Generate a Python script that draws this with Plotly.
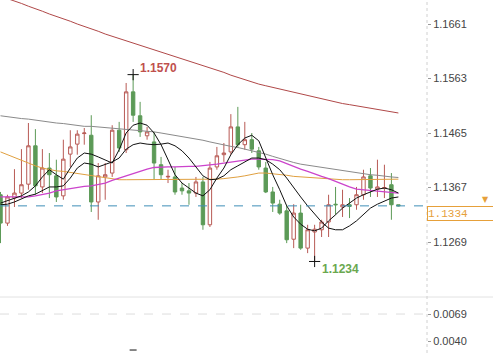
import plotly.graph_objects as go

# ---------------- data ----------------
idx = list(range(58))
opens = [1.1354, 1.1303, 1.1348, 1.1357, 1.1373, 1.1442, 1.1368, 1.1402, 1.1388, 1.1352,
         1.1427, 1.1445, 1.1464, 1.1461, 1.1341, 1.1386, 1.1393, 1.1470, 1.1435, 1.1539,
         1.1496, 1.1460, 1.1449, 1.1408, 1.1386, 1.1386, 1.1366, 1.1361, 1.1357, 1.1377,
         1.1300, 1.1404, 1.1426, 1.1431, 1.1476, 1.1444, 1.1453, 1.1433, 1.1402, 1.1359,
         1.1337, 1.1325, 1.1274, 1.1321, 1.1258, 1.1287, 1.1291, 1.1305, 1.1337, 1.1332,
         1.1336, 1.1336, 1.1354, 1.1388, 1.1364, 1.1366, 1.1372, 1.1336]
highs = [1.1359, 1.1354, 1.1400, 1.1436, 1.1483, 1.1472, 1.1436, 1.1429, 1.1417, 1.1453,
         1.1470, 1.1470, 1.1474, 1.1497, 1.1411, 1.1411, 1.1479, 1.1485, 1.1555, 1.1570,
         1.1521, 1.1476, 1.1467, 1.1422, 1.1399, 1.1404, 1.1375, 1.1375, 1.1386, 1.1386,
         1.1413, 1.1440, 1.1447, 1.1499, 1.1512, 1.1485, 1.1465, 1.1440, 1.1413, 1.1368,
         1.1345, 1.1336, 1.1337, 1.1336, 1.1300, 1.1300, 1.1309, 1.1354, 1.1368, 1.1363,
         1.1348, 1.1368, 1.1399, 1.1402, 1.1417, 1.1408, 1.1393, 1.1336]
lows = [1.1267, 1.1298, 1.1332, 1.1348, 1.1363, 1.1354, 1.1357, 1.1348, 1.1341, 1.1345,
        1.1404, 1.1426, 1.1444, 1.1323, 1.1309, 1.1345, 1.1386, 1.1431, 1.1429, 1.1485,
        1.1458, 1.1453, 1.1381, 1.1381, 1.1375, 1.1354, 1.1354, 1.1336, 1.1350, 1.1291,
        1.1296, 1.1399, 1.1413, 1.1426, 1.1438, 1.1435, 1.1429, 1.1399, 1.1357, 1.1323,
        1.1318, 1.1267, 1.1258, 1.1255, 1.1249, 1.1234, 1.1278, 1.1278, 1.1318, 1.1314,
        1.1312, 1.1327, 1.1345, 1.1350, 1.1350, 1.1348, 1.1309, 1.1333]
closes = [1.1303, 1.1350, 1.1357, 1.1372, 1.1442, 1.1370, 1.1402, 1.1390, 1.1350, 1.1418,
          1.1440, 1.1463, 1.1465, 1.1341, 1.1388, 1.1390, 1.1470, 1.1438, 1.1539, 1.1497,
          1.1467, 1.1467, 1.1411, 1.1390, 1.1387, 1.1359, 1.1361, 1.1357, 1.1377, 1.1300,
          1.1402, 1.1424, 1.1429, 1.1476, 1.1444, 1.1453, 1.1436, 1.1404, 1.1359, 1.1339,
          1.1321, 1.1273, 1.1321, 1.1258, 1.1291, 1.1292, 1.1305, 1.1336, 1.1336, 1.1336,
          1.1333, 1.1354, 1.1386, 1.1366, 1.1368, 1.1367, 1.1336, 1.1334]

ma_fast = [1.1339, 1.1343, 1.1348, 1.1352, 1.1359, 1.1370, 1.1386, 1.1399, 1.1390, 1.1382,
           1.1402, 1.1420, 1.1429, 1.1427, 1.1422, 1.1417, 1.1411, 1.1435, 1.1465, 1.1479,
           1.1483, 1.1479, 1.1465, 1.1444, 1.1417, 1.1390, 1.1375, 1.1366, 1.1357, 1.1352,
           1.1363, 1.1384, 1.1402, 1.1426, 1.1444, 1.1456, 1.1461, 1.1451, 1.1420, 1.1390,
           1.1363, 1.1334, 1.1314, 1.1301, 1.1292, 1.1289, 1.1294, 1.1307, 1.1318, 1.1330,
           1.1339, 1.1348, 1.1354, 1.1359, 1.1364, 1.1366, 1.1363, 1.1357]
ma_slow = [1.1336, 1.1337, 1.1341, 1.1346, 1.1352, 1.1355, 1.1361, 1.1368, 1.1368, 1.1370,
           1.1384, 1.1402, 1.1411, 1.1409, 1.1404, 1.1408, 1.1413, 1.1420, 1.1436, 1.1444,
           1.1447, 1.1445, 1.1444, 1.1445, 1.1447, 1.1442, 1.1433, 1.1420, 1.1404, 1.1388,
           1.1381, 1.1382, 1.1388, 1.1399, 1.1406, 1.1413, 1.1420, 1.1420, 1.1417, 1.1409,
           1.1399, 1.1384, 1.1366, 1.1350, 1.1334, 1.1319, 1.1305, 1.1294, 1.1291, 1.1291,
           1.1298, 1.1307, 1.1319, 1.1330, 1.1337, 1.1343, 1.1348, 1.1350]
ma_magenta = [1.1350, 1.1350, 1.1350, 1.1350, 1.1350, 1.1352, 1.1354, 1.1357, 1.1361, 1.1363,
              1.1366, 1.1368, 1.1369, 1.1370, 1.1372, 1.1375, 1.1380, 1.1384, 1.1389, 1.1393,
              1.1397, 1.1400, 1.1403, 1.1404, 1.1404, 1.1404, 1.1405, 1.1405, 1.1405, 1.1406,
              1.1408, 1.1409, 1.1411, 1.1413, 1.1415, 1.1417, 1.1418, 1.1418, 1.1418, 1.1417,
              1.1415, 1.1410, 1.1404, 1.1400, 1.1396, 1.1391, 1.1387, 1.1383, 1.1378, 1.1372,
              1.1368, 1.1364, 1.1363, 1.1362, 1.1361, 1.1359, 1.1358, 1.1357]
ma_orange = [1.1431, 1.1426, 1.1420, 1.1415, 1.1410, 1.1406, 1.1402, 1.1399, 1.1397, 1.1396,
             1.1394, 1.1392, 1.1390, 1.1388, 1.1387, 1.1384, 1.1382, 1.1381, 1.1381, 1.1381,
             1.1381, 1.1381, 1.1381, 1.1381, 1.1381, 1.1381, 1.1381, 1.1381, 1.1381, 1.1381,
             1.1381, 1.1382, 1.1383, 1.1384, 1.1386, 1.1388, 1.1390, 1.1393, 1.1393, 1.1392,
             1.1391, 1.1389, 1.1387, 1.1386, 1.1385, 1.1384, 1.1383, 1.1382, 1.1382, 1.1381,
             1.1381, 1.1381, 1.1381, 1.1381, 1.1381, 1.1382, 1.1382, 1.1382]
ma_gray = [1.1496, 1.1494, 1.1493, 1.1491, 1.1490, 1.1488, 1.1487, 1.1485, 1.1483, 1.1482,
           1.1480, 1.1478, 1.1477, 1.1477, 1.1476, 1.1475, 1.1474, 1.1473, 1.1472, 1.1471,
           1.1470, 1.1469, 1.1467, 1.1465, 1.1463, 1.1461, 1.1458, 1.1456, 1.1454, 1.1452,
           1.1449, 1.1446, 1.1444, 1.1441, 1.1439, 1.1436, 1.1434, 1.1430, 1.1427, 1.1423,
           1.1419, 1.1416, 1.1412, 1.1409, 1.1407, 1.1405, 1.1403, 1.1401, 1.1399, 1.1397,
           1.1395, 1.1394, 1.1392, 1.1390, 1.1389, 1.1387, 1.1386, 1.1385]
ma_red = [1.1711, 1.1707, 1.1702, 1.1698, 1.1693, 1.1689, 1.1684, 1.1679, 1.1675, 1.1670,
          1.1666, 1.1661, 1.1657, 1.1652, 1.1648, 1.1643, 1.1639, 1.1635, 1.1631, 1.1626,
          1.1622, 1.1618, 1.1614, 1.1610, 1.1606, 1.1603, 1.1599, 1.1595, 1.1591, 1.1587,
          1.1583, 1.1578, 1.1574, 1.1569, 1.1565, 1.1560, 1.1556, 1.1553, 1.1550, 1.1547,
          1.1544, 1.1541, 1.1538, 1.1535, 1.1532, 1.1529, 1.1527, 1.1524, 1.1521, 1.1518,
          1.1516, 1.1514, 1.1511, 1.1509, 1.1508, 1.1505, 1.1503, 1.1501]

last_price = 1.1334
main_ticks = [1.1661, 1.1563, 1.1465, 1.1367, 1.1269]
sub_ticks = [0.0069, 0.0040]
ind_x = [19]
ind_y = [0.00303]

# ---------------- styles ----------------
RED = "#b85a55"
GREEN = "#5c9a57"
ORANGE = "#e6a03a"
W, H = 493, 353
PLOT_RIGHT = 427 / W
SPLIT = 1 - 297 / H

fig = go.Figure()
fig.add_trace(go.Candlestick(
    x=idx, open=opens, high=highs, low=lows, close=closes,
    increasing=dict(line=dict(color=RED, width=1), fillcolor="white"),
    decreasing=dict(line=dict(color=GREEN, width=1), fillcolor=GREEN),
    whiskerwidth=0, showlegend=False, hoverinfo="skip", xaxis="x", yaxis="y"))

for vals, col, w in [(ma_red, "#b04848", 1), (ma_gray, "#8a8a8a", 1), (ma_orange, "#e0a040", 1),
                     (ma_magenta, "#cc44cc", 1.3), (ma_slow, "#111111", 1), (ma_fast, "#111111", 1)]:
    fig.add_trace(go.Scatter(x=idx, y=vals, mode="lines", line=dict(color=col, width=w),
                             showlegend=False, hoverinfo="skip", xaxis="x", yaxis="y"))

# extreme markers
hi_i = max(idx, key=lambda k: highs[k])
lo_i = min(idx, key=lambda k: lows[k])
fig.add_trace(go.Scatter(x=[hi_i, lo_i], y=[highs[hi_i], lows[lo_i]], mode="markers",
                         marker=dict(symbol="cross-thin", size=8, line=dict(color="#111", width=1)),
                         showlegend=False, hoverinfo="skip", xaxis="x", yaxis="y"))

# lower indicator panel
fig.add_trace(go.Scatter(x=ind_x, y=ind_y, mode="markers",
                         marker=dict(symbol="line-ew", size=5, line=dict(color="#111", width=1)),
                         showlegend=False, hoverinfo="skip", xaxis="x2", yaxis="y2"))

xr = [-0.072, 61.1]
axis_font = dict(family="Arial", size=11, color="#444")
fig.update_layout(
    width=W, height=H, margin=dict(l=0, r=0, t=0, b=0),
    paper_bgcolor="white", plot_bgcolor="white",
    xaxis=dict(domain=[0, PLOT_RIGHT], range=xr, showticklabels=False, showgrid=False,
               zeroline=False, rangeslider=dict(visible=False), anchor="y"),
    xaxis2=dict(domain=[0, PLOT_RIGHT], range=xr, showticklabels=False, showgrid=False,
                zeroline=False, anchor="y2"),
    yaxis=dict(domain=[SPLIT, 1], range=[1.11701, 1.17042], side="right", anchor="x",
               tickvals=main_ticks, ticktext=[f"{v:.4f}" for v in main_ticks],
               ticks="outside", ticklen=3, tickcolor="#999", showgrid=False, zeroline=False,
               tickfont=axis_font),
    yaxis2=dict(domain=[0, SPLIT], range=[0.00271, 0.00873], side="right", anchor="x2",
                tickvals=sub_ticks, ticktext=[f"{v:.4f}" for v in sub_ticks],
                ticks="outside", ticklen=3, tickcolor="#999", showgrid=False, zeroline=False,
                tickfont=axis_font),
    shapes=[
        dict(type="line", xref="paper", yref="y", x0=0, x1=PLOT_RIGHT, y0=last_price, y1=last_price,
             line=dict(color="#3f8fb8", width=1, dash="dash")),
        dict(type="line", xref="paper", yref="paper", x0=0, x1=1, y0=SPLIT, y1=SPLIT,
             line=dict(color="#e2e2e2", width=1)),
        dict(type="line", xref="paper", yref="paper", x0=PLOT_RIGHT, x1=PLOT_RIGHT, y0=0, y1=1,
             line=dict(color="#d0d0d0", width=1, dash="dot")),
        dict(type="line", xref="paper", yref="y2", x0=0, x1=PLOT_RIGHT, y0=sub_ticks[0], y1=sub_ticks[0],
             line=dict(color="#dddddd", width=1, dash="dash")),
    ],
    annotations=[
        dict(x=hi_i, y=highs[hi_i], xref="x", yref="y", text=f"<b>{highs[hi_i]:.4f}</b>",
             showarrow=False, xanchor="left", yanchor="middle", xshift=5, yshift=7,
             font=dict(family="Arial", size=12, color="#c0504d")),
        dict(x=lo_i, y=lows[lo_i], xref="x", yref="y", text=f"<b>{lows[lo_i]:.4f}</b>",
             showarrow=False, xanchor="left", yanchor="middle", xshift=5, yshift=-8,
             font=dict(family="Arial", size=12, color="#6aa84f")),
        dict(x=PLOT_RIGHT, y=last_price, xref="paper", yref="y", text=f"{last_price:.4f}",
             showarrow=False, xanchor="left", yanchor="top", align="left",
             width=70, height=13, borderpad=0, bordercolor=ORANGE, borderwidth=1, bgcolor="white",
             font=dict(family="Liberation Mono", size=11, color=ORANGE)),
        dict(x=0.995, y=last_price, xref="paper", yref="y", text="▼",
             showarrow=False, xanchor="right", yanchor="bottom", yshift=0,
             font=dict(family="DejaVu Sans", size=8, color=ORANGE)),
    ],
)

fig.write_html("out.html")
